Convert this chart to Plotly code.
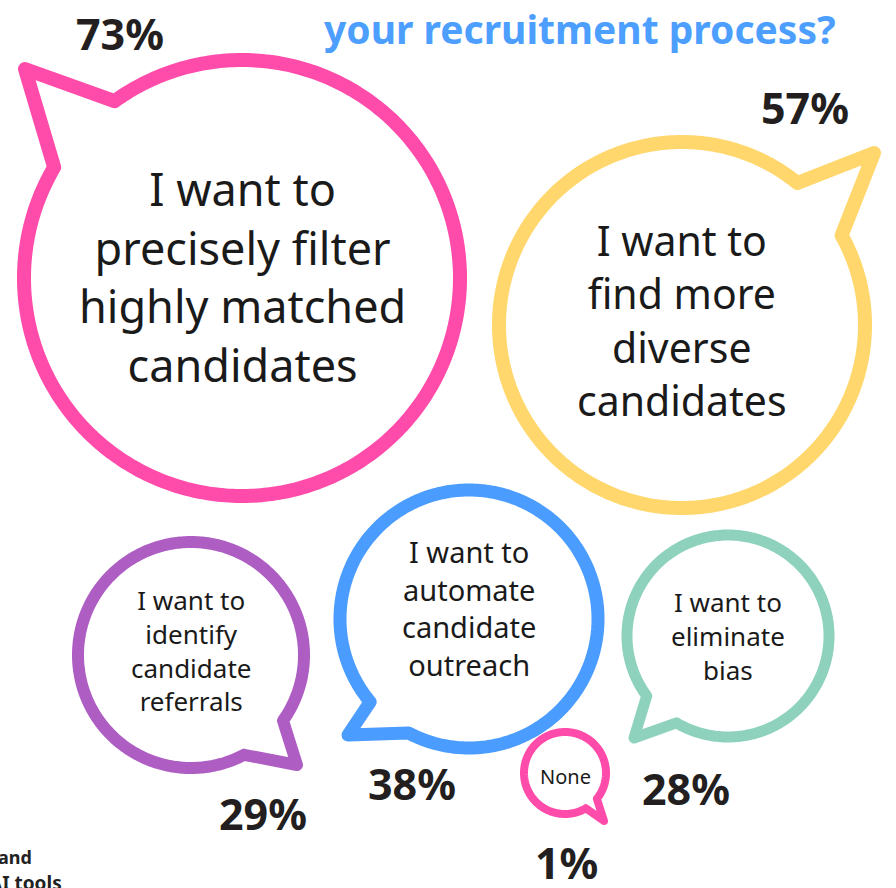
import numpy as np
import plotly.graph_objects as go

# ---- data ----
labels = [
    "I want to<br>precisely filter<br>highly matched<br>candidates",
    "I want to<br>find more<br>diverse<br>candidates",
    "I want to<br>identify<br>candidate<br>referrals",
    "I want to<br>automate<br>candidate<br>outreach",
    "I want to<br>eliminate<br>bias",
    "None",
]
percents = [73, 57, 29, 38, 28, 1]
title_text = "your recruitment process?"

# ---- layout / styling (pixel coordinates) ----
colors = ["#FF4BA9", "#FFD76C", "#AE5EC3", "#4B9CFF", "#8ED2BD", "#FF4BA9"]
centers = [(242, 278), (682, 325), (191, 655), (469, 619), (728, 636), (565, 773)]
radii = [218, 183, 113, 129, 101, 41]
widths = [14, 14, 12, 13, 11, 8]
# tail: (start angle, end angle) on circle in degrees (screen coords, y down), tip point
tails = [
    (-125.8, -149.5, (25, 69)),
    (-29.3, -50.9, (874, 153)),
    (62, 35.5, (297, 765)),
    (140, 118, (348, 735)),
    (143.6, 120.7, (634, 738)),
    (59.5, 39, (604, 821)),
]
text_sizes = [45, 41, 26, 29, 26, 20]
text_y = [276, 320, 650, 608, 636, 776]
pct_pos = [(120, 33), (805, 107), (263, 813), (412, 783), (686, 788), (566, 862)]

FONT = "Noto Sans"

fig = go.Figure()

for i in range(len(labels)):
    cx, cy = centers[i]
    r = radii[i]
    a0, a_end, tip = tails[i]
    d = (a_end - a0) % 360
    a1 = a0 - (360 - d) if d < 180 else a0 + d
    ang = np.radians(np.linspace(a0, a1, 360))
    xs = list(cx + r * np.cos(ang)) + [tip[0], cx + r * np.cos(np.radians(a0))]
    ys = list(cy + r * np.sin(ang)) + [tip[1], cy + r * np.sin(np.radians(a0))]
    fig.add_trace(go.Scatter(
        x=xs, y=ys, mode="lines",
        line=dict(color=colors[i], width=widths[i], simplify=False),
        hoverinfo="skip", showlegend=False,
    ))
    fig.add_annotation(
        x=cx, y=text_y[i], text=labels[i], showarrow=False,
        font=dict(family=FONT, size=text_sizes[i], color="#1a1a1a"),
        xanchor="center", yanchor="middle", align="center",
    )
    fig.add_annotation(
        x=pct_pos[i][0], y=pct_pos[i][1], text="<b>%d%%</b>" % percents[i],
        showarrow=False,
        font=dict(family=FONT, size=43, color="#231f20"),
        xanchor="center", yanchor="middle",
    )

fig.add_annotation(
    x=580, y=28, text="<b>" + title_text + "</b>", showarrow=False,
    font=dict(family=FONT, size=39, color="#4C9EFF"),
    xanchor="center", yanchor="middle",
)
fig.add_annotation(
    x=34, y=857, text="<b>and</b>", showarrow=False,
    font=dict(family=FONT, size=18, color="#222222"),
    xanchor="right", yanchor="middle",
)
fig.add_annotation(
    x=64, y=883, text="<b>AI tools</b>", showarrow=False,
    font=dict(family=FONT, size=19, color="#222222"),
    xanchor="right", yanchor="middle",
)

fig.update_layout(
    width=896, height=888,
    margin=dict(l=0, r=0, t=0, b=0),
    paper_bgcolor="white", plot_bgcolor="white",
    xaxis=dict(range=[0, 896], visible=False, fixedrange=True),
    yaxis=dict(range=[888, 0], visible=False, fixedrange=True),
    showlegend=False,
)

fig.write_html(
    "out.html",
    config={"displayModeBar": False},
    post_script=(
        "document.body.style.margin='0px';document.body.style.overflow='hidden';"
        "document.querySelectorAll('.scatterlayer path.js-line').forEach("
        "function(p){p.style.strokeLinejoin='round';p.style.strokeLinecap='round';});"
    ),
)
